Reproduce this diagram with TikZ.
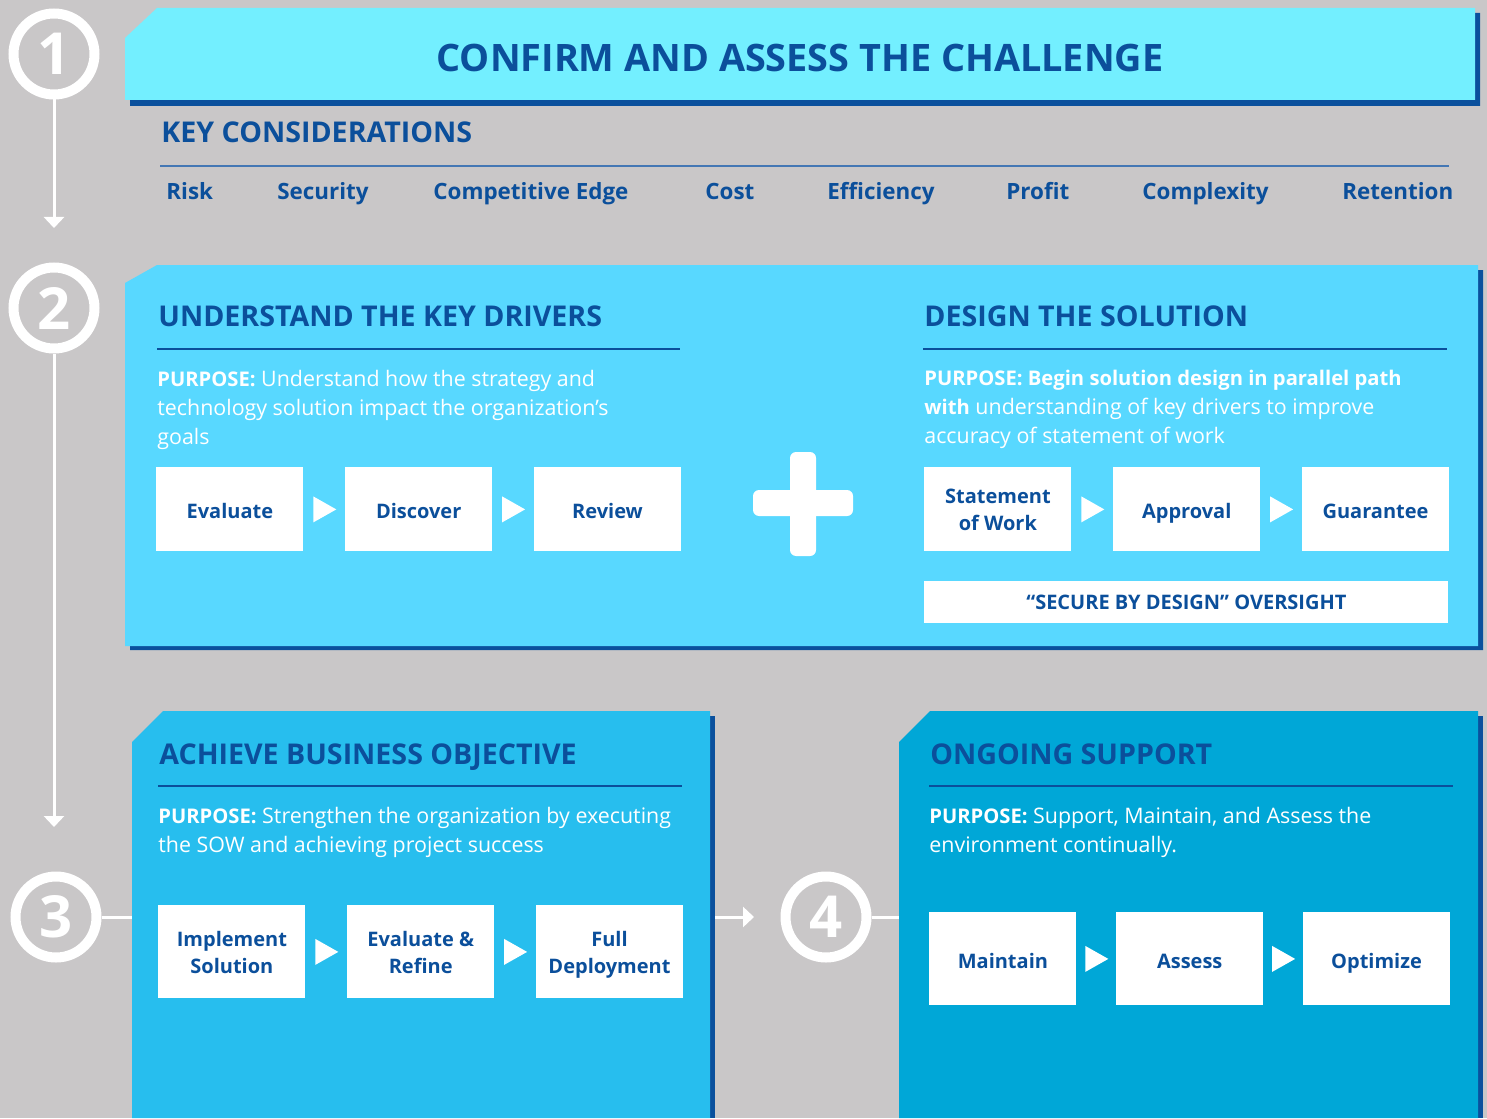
\documentclass[tikz,border=0pt]{standalone}
\usepackage{fontspec}
\setmainfont{Open Sans}
\usetikzlibrary{positioning, arrows.meta, calc}

\definecolor{bggray}{HTML}{C9C7C8}
\definecolor{headcyan}{HTML}{73EFFF}
\definecolor{panelsky}{HTML}{58D8FF}
\definecolor{panelazure}{HTML}{27BEEE}
\definecolor{panelocean}{HTML}{00A7D7}
\definecolor{shadowblue}{HTML}{0A509D}
\definecolor{navy}{HTML}{0B4F9B}
\definecolor{ruleblue}{HTML}{4477B4}

\newcommand{\pbold}[1]{{\fontsize{10.1}{14.5}\selectfont\bfseries #1}}

\begin{document}
\begin{tikzpicture}[
    x=0.5pt, y=-0.5pt,
    % step boxes inside the panels
    stepbox/.style={
        rectangle,
        fill=white,
        minimum width=73.5pt,
        minimum height=42pt,
        inner sep=0pt,
        align=center,
        text=navy,
        font=\bfseries\fontsize{10}{13.5}\selectfont
    },
    oneline/.style={text height=10pt, text depth=0.8pt},
    twoline/.style={text depth=-2pt},
    tallbox/.style={stepbox, minimum height=46.5pt},
    numcircle/.style={
        circle,
        draw=white,
        line width=5pt,
        minimum size=40.5pt,
        inner sep=0pt,
        text=white,
        font=\bfseries\fontsize{29}{30}\selectfont
    },
    sectitle/.style={anchor=base west, inner sep=0pt, text=navy, font=\bfseries\fontsize{14.3}{16}\selectfont},
    keyitem/.style={anchor=base west, inner sep=0pt, text=navy, font=\bfseries\fontsize{11.2}{13}\selectfont},
    purpose/.style={anchor=north west, inner sep=0pt, align=left, text=white, font=\fontsize{10.7}{14.5}\selectfont},
    flowline/.style={draw=white, line width=1.5pt},
    flowarrow/.style={flowline, -{Triangle[width=10pt,length=5.5pt]}},
    secrule/.style={draw=navy, line width=1pt}
]
    \useasboundingbox (0,0) rectangle (1487,1118);
    \fill[bggray] (0,0) rectangle (1487,1118);

    % Panels with their shadows
    \fill[shadowblue] (130,43) -- (162,13) -- (1480,13) -- (1480,106) -- (130,106) -- cycle;
    \fill[headcyan] (125,38) -- (157,8) -- (1475,8) -- (1475,100) -- (125,100) -- cycle;

    \fill[shadowblue] (130,288) -- (162,270) -- (1483,270) -- (1483,650) -- (130,650) -- cycle;
    \fill[panelsky] (125,283) -- (157,265) -- (1478,265) -- (1478,646) -- (125,646) -- cycle;

    \fill[shadowblue] (710,716) rectangle (715,1118);
    \fill[panelazure] (132,742) -- (163,711) -- (710,711) -- (710,1118) -- (132,1118) -- cycle;

    \fill[shadowblue] (1478,716) rectangle (1483,1118);
    \fill[panelocean] (899,742) -- (930,711) -- (1478,711) -- (1478,1118) -- (899,1118) -- cycle;

    % Step 1 - header and key considerations
    \node[anchor=base, inner sep=0pt, text=navy, font=\bfseries\fontsize{18.9}{20}\selectfont] (title) at (800,72) {CONFIRM AND ASSESS THE CHALLENGE};

    \node[sectitle] (keycons) at (161,143) {KEY CONSIDERATIONS};
    \draw[draw=ruleblue, line width=1pt] (160,166) -- (1449,166);
    \foreach \t/\x [count=\i] in {Risk/166, Security/277, Competitive Edge/433, Cost/705,
                                  Efficiency/827, Profit/1006, Complexity/1142, Retention/1342}
        \node[keyitem] (key\i) at (\x,199) {\t};

    % Step 2 - key drivers
    \node[sectitle] (drivers) at (158,326) {UNDERSTAND THE KEY DRIVERS};
    \draw[secrule] (157,349) -- (680,349);
    \node[purpose] (drvpurpose) at (157,370) {\pbold{PURPOSE:} Understand how the strategy and\\
        technology solution impact the organization’s\\goals};

    \node[stepbox, oneline, anchor=north west] (eval) at (156,467) {Evaluate};
    \node[stepbox, oneline, right=20.5pt of eval] (disc) {Discover};
    \node[stepbox, oneline, right=20.5pt of disc] (rev) {Review};

    % plus sign
    \fill[white, rounded corners=3pt] (753,490) rectangle (853,516);
    \fill[white, rounded corners=3pt] (790,452) rectangle (816,556);

    % Step 2 - solution design
    \node[sectitle] (design) at (924,326) {DESIGN THE SOLUTION};
    \draw[secrule] (923,349) -- (1447,349);
    \node[purpose] (dsgpurpose) at (924,370) {\pbold{PURPOSE: Begin solution design in parallel path}\\
        \pbold{with} understanding of key drivers to improve\\accuracy of statement of work};

    \node[stepbox, anchor=north west] (sow) at (924,467) {Statement\\of Work};
    \node[stepbox, oneline, right=20.5pt of sow] (appr) {Approval};
    \node[stepbox, oneline, right=20.5pt of appr] (guar) {Guarantee};

    \node[rectangle, fill=white, anchor=north west, minimum width=262pt, minimum height=21pt, inner sep=0pt,
          text=navy, font=\bfseries\fontsize{10}{11}\selectfont] (secure) at (924,581) {“SECURE BY DESIGN” OVERSIGHT};

    % Step 3 - business objective
    \node[sectitle] (achieve) at (159,764) {ACHIEVE BUSINESS OBJECTIVE};
    \draw[secrule] (158,786) -- (682,786);
    \node[purpose] (achpurpose) at (158,807) {\pbold{PURPOSE:} Strengthen the organization by executing\\
        the SOW and achieving project success};

    \node[tallbox, twoline, anchor=north west] (impl) at (158,905) {Implement\\Solution};
    \node[tallbox, twoline, right=20.5pt of impl] (refine) {Evaluate \&\\Refine};
    \node[tallbox, twoline, right=20.5pt of refine] (deploy) {Full\\Deployment};

    % Step 4 - ongoing support
    \node[sectitle] (support) at (930,764) {ONGOING SUPPORT};
    \draw[secrule] (929,786) -- (1453,786);
    \node[purpose] (suppurpose) at (929,807) {\pbold{PURPOSE:} Support, Maintain, and Assess the\\
        environment continually.};

    \node[tallbox, oneline, anchor=north west] (maint) at (929,912) {Maintain};
    \node[tallbox, oneline, right=19.5pt of maint] (assess) {Assess};
    \node[tallbox, oneline, right=19.5pt of assess] (optim) {Optimize};

    % small arrow heads between the steps
    \foreach \a/\b in {eval/disc, disc/rev, sow/appr, appr/guar, impl/refine, refine/deploy, maint/assess, assess/optim}
        \fill[white] ($(\a.east)!0.5!(\b.west)$) ++(-11,-13) -- ++(23,13) -- ++(-23,13) -- cycle;

    % Numbered circles
    \node[numcircle] (c1) at (54,54) {1};
    \node[numcircle] (c2) at (54,308) {2};
    \node[numcircle] (c3) at (56,917) {3};
    \node[numcircle] (c4) at (826,917) {4};

    \coordinate (end1) at (54,228);
    \coordinate (end2) at (54,827);
    \coordinate (p3west) at (132,917);
    \coordinate (p3east) at (715,917);
    \coordinate (end3) at (754,917);
    \coordinate (p4west) at (899,917);

    % Connectors
    \draw[flowarrow] (c1.south) -- (end1);
    \draw[flowarrow] (c2.south) -- (end2);
    \draw[flowline] (c3.east) -- (p3west);
    \draw[flowarrow] (p3east) -- (end3);
    \draw[flowline] (c4.east) -- (p4west);

\end{tikzpicture}
\end{document}
